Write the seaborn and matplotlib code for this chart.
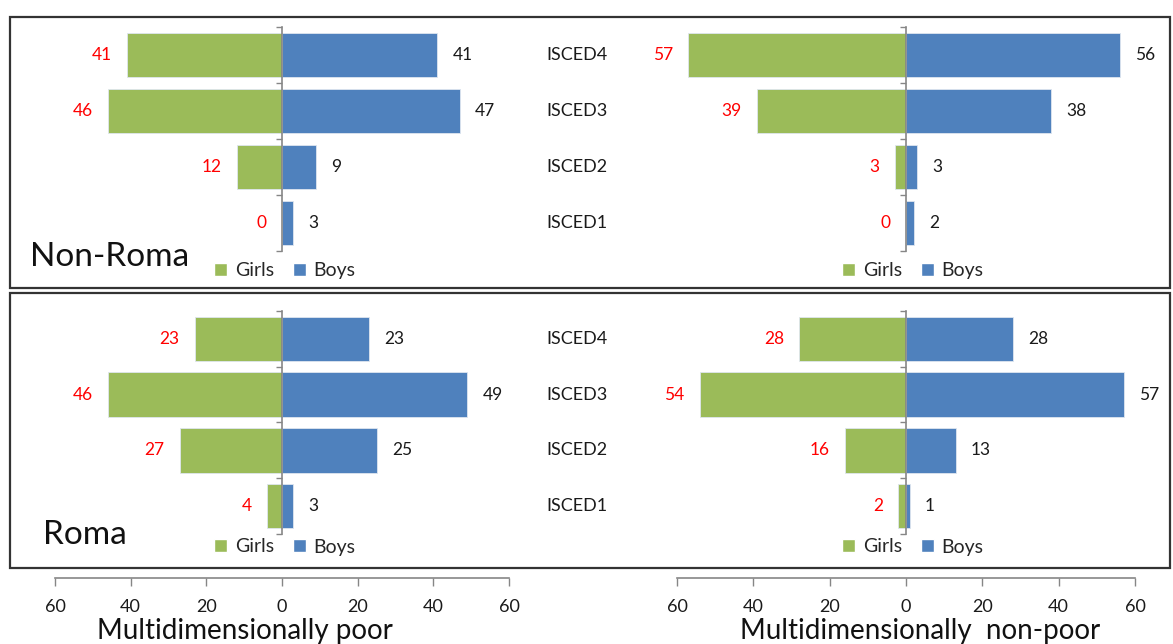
import matplotlib
matplotlib.use("Agg")
import matplotlib.pyplot as plt
from matplotlib.patches import Rectangle, Patch
from matplotlib.transforms import blended_transform_factory
import pandas as pd
import seaborn as sns

# ---- data -------------------------------------------------------------
levels = ["ISCED4", "ISCED3", "ISCED2", "ISCED1"]
sexes = ["Girls", "Boys"]

nonroma_poor_girls = [41, 46, 12, 0]
nonroma_poor_boys = [41, 47, 9, 3]
nonroma_nonpoor_girls = [57, 39, 3, 0]
nonroma_nonpoor_boys = [56, 38, 3, 2]
roma_poor_girls = [23, 46, 27, 4]
roma_poor_boys = [23, 49, 25, 3]
roma_nonpoor_girls = [28, 54, 16, 2]
roma_nonpoor_boys = [28, 57, 13, 1]

group_labels = ["Non-Roma", "Roma"]
xtick_values = [-60, -40, -20, 0, 20, 40, 60]
xtick_labels = ["60", "40", "20", "0", "20", "40", "60"]
axis_titles = ["Multidimensionally poor", "Multidimensionally  non-poor"]

# ---- style ------------------------------------------------------------
sns.set_theme(style="white")
plt.rcParams["font.family"] = ["Lato", "DejaVu Sans"]

GREEN = "#9BBB59"
BLUE = "#4F81BD"
AXIS_GREY = "#868686"
palette = {"Girls": GREEN, "Boys": BLUE}

W, H = 1173, 644
fig = plt.figure(figsize=(W / 100, H / 100), dpi=100)


def fx(px):
    return px / W


def fy(py):
    return 1 - py / H


def pyramid(rect, girls, boys, legend_xy):
    ax = fig.add_axes(rect)
    df = pd.DataFrame({
        "level": levels * 2,
        "sex": ["Girls"] * len(levels) + ["Boys"] * len(levels),
        "value": [-g for g in girls] + list(boys),
    })
    sns.barplot(data=df, x="value", y="level", hue="sex", order=levels,
                hue_order=sexes, palette=palette, saturation=1, dodge=False,
                orient="h", width=0.8, errorbar=None, legend=False, ax=ax,
                edgecolor="#dfe6ef", linewidth=0.6)
    ax.set_xlim(-60, 60)
    ax.set_ylim(len(levels) - 0.5, -0.5)
    ax.set_xlabel("")
    ax.set_ylabel("")
    ax.set_xticks([])
    for side in ("top", "right", "bottom"):
        ax.spines[side].set_visible(False)
    ax.spines["left"].set_position(("data", 0))
    ax.spines["left"].set_color(AXIS_GREY)
    ax.spines["left"].set_linewidth(1.2)
    ax.set_yticks([i - 0.5 for i in range(len(levels) + 1)], labels=[])
    ax.tick_params(axis="y", direction="out", length=4, width=1,
                   color=AXIS_GREY, left=True)
    ax.patch.set_alpha(0)

    for i, (g, b) in enumerate(zip(girls, boys)):
        ax.annotate(str(g), xy=(-g, i), xytext=(-11, 0),
                    textcoords="offset points", ha="right", va="center",
                    color="#FF0000", fontsize=12.5)
        ax.annotate(str(b), xy=(b, i), xytext=(11, 0),
                    textcoords="offset points", ha="left", va="center",
                    color="#1a1a1a", fontsize=12.5)

    handles = [Patch(facecolor=palette[s]) for s in sexes]
    ax.legend(handles, sexes, loc="center", bbox_to_anchor=legend_xy,
              bbox_transform=fig.transFigure, ncol=2, frameon=False,
              fontsize=14, handlelength=0.65, handleheight=0.65,
              handletextpad=0.4, columnspacing=1.0, borderpad=0)
    return ax


# ---- frames around each group --------------------------------------------
for top, bottom in [(17, 288), (293, 568)]:
    fig.add_artist(Rectangle((fx(10), fy(bottom)), fx(1160), (bottom - top) / H,
                             transform=fig.transFigure, fill=False,
                             edgecolor="#333333", linewidth=1.6))

# ---- panels ----------------------------------------------------------
left_x, left_w = fx(55), fx(454)
right_x, right_w = fx(677), fx(458)
top_rect_y, top_rect_h = fy(251), 224 / H
bot_rect_y, bot_rect_h = fy(534), 223 / H

ax_tl = pyramid([left_x, top_rect_y, left_w, top_rect_h],
                nonroma_poor_girls, nonroma_poor_boys, (fx(285), fy(271)))
ax_tr = pyramid([right_x, top_rect_y, right_w, top_rect_h],
                nonroma_nonpoor_girls, nonroma_nonpoor_boys, (fx(913), fy(271)))
ax_bl = pyramid([left_x, bot_rect_y, left_w, bot_rect_h],
                roma_poor_girls, roma_poor_boys, (fx(285), fy(547)))
ax_br = pyramid([right_x, bot_rect_y, right_w, bot_rect_h],
                roma_nonpoor_girls, roma_nonpoor_boys, (fx(913), fy(547)))

# education level labels between the two pyramids
for ax in (ax_tl, ax_bl):
    trans = blended_transform_factory(fig.transFigure, ax.transData)
    for i, lvl in enumerate(levels):
        ax.text(fx(577), i, lvl, transform=trans, ha="center", va="center",
                fontsize=13, color="#1a1a1a")

# group names
fig.text(fx(30), fy(257), group_labels[0], fontsize=24, ha="left",
         va="center", color="#111111")
fig.text(fx(43), fy(535), group_labels[1], fontsize=24, ha="left",
         va="center", color="#111111")

# ---- shared value axes under the panels ----------------------------------
for x0, w, title, cx in [(left_x, left_w, axis_titles[0], fx(245)),
                         (right_x, right_w, axis_titles[1], fx(920))]:
    axx = fig.add_axes([x0, fy(578), w, 1 / H])
    axx.set_xlim(-60, 60)
    axx.set_yticks([])
    for side in ("top", "right", "left"):
        axx.spines[side].set_visible(False)
    axx.spines["bottom"].set_color(AXIS_GREY)
    axx.spines["bottom"].set_linewidth(1.2)
    axx.set_xticks(xtick_values, labels=xtick_labels)
    axx.tick_params(axis="x", direction="out", length=6, width=1,
                    color=AXIS_GREY, labelsize=13, pad=9,
                    labelcolor="#1a1a1a", bottom=True)
    axx.patch.set_alpha(0)
    fig.text(cx, fy(631), title, fontsize=20, ha="center", va="center",
             color="#111111")

fig.savefig("out.png", dpi=100)
